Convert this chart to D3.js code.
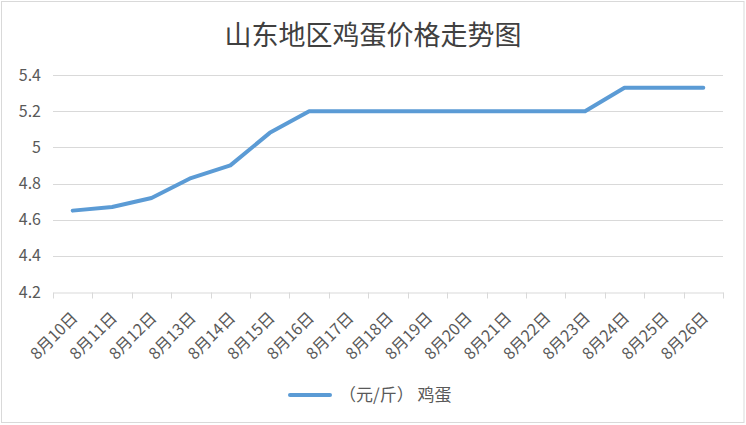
<!DOCTYPE html>
<html><head><meta charset="utf-8">
<script src="https://cdn.jsdelivr.net/npm/d3@7"></script>
<style>body{margin:0;background:#fff}svg{display:block}text{font-family:"Noto Sans CJK SC","Open Sans",sans-serif}</style>
</head><body>
<svg id="c" width="746" height="425"></svg>
<script>
const title = "山东地区鸡蛋价格走势图";
const categories = ["8月10日","8月11日","8月12日","8月13日","8月14日","8月15日","8月16日","8月17日","8月18日","8月19日","8月20日","8月21日","8月22日","8月23日","8月24日","8月25日","8月26日"];
const values = [4.65,4.67,4.72,4.83,4.90,5.08,5.20,5.20,5.20,5.20,5.20,5.20,5.20,5.20,5.33,5.33,5.33];
const yTicks = [4.2,4.4,4.6,4.8,5,5.2,5.4];
const seriesName = "（元/斤） 鸡蛋";

const svg = d3.select("#c");
svg.append("rect").attr("x",1.5).attr("y",1.5).attr("width",742.5).attr("height",421).attr("fill","#fff").attr("stroke","#d9d9d9").attr("stroke-width",1);

const L=53, R=723, T=75, B=292;
const x = d3.scaleBand().domain(categories).range([L,R]);
const y = d3.scaleLinear().domain([4.2,5.4]).range([B,T]);

svg.append("text").attr("x",373).attr("y",45).attr("text-anchor","middle").attr("font-size",27).attr("fill","#404040").text(title);

// gridlines
svg.append("g").selectAll("line").data(yTicks.filter(d=>d>4.2)).join("line")
  .attr("x1",L).attr("x2",R).attr("y1",d=>Math.round(y(d))+0.5).attr("y2",d=>Math.round(y(d))+0.5)
  .attr("stroke","#d9d9d9").attr("stroke-width",1);

// y labels
svg.append("g").selectAll("text").data(yTicks).join("text")
  .attr("x",41).attr("y",d=>y(d)+5.5).attr("text-anchor","end").attr("font-size",16).attr("fill","#595959")
  .text(d=>d3.format("~g")(d));

// x axis
const xAxis = d3.axisBottom(x).tickSize(6).tickSizeOuter(0).tickFormat("");
const gx = svg.append("g").attr("transform",`translate(0,${Math.round(B)+0.5})`).call(xAxis);
gx.select(".domain").attr("stroke","#d9d9d9");
gx.selectAll(".tick").remove();
const edges = categories.map(c=>x(c)).concat([R]);
gx.selectAll("line.t").data(edges).join("line").attr("class","t")
  .attr("x1",d=>Math.round(d)+0.5).attr("x2",d=>Math.round(d)+0.5).attr("y1",0).attr("y2",6).attr("stroke","#d9d9d9");

svg.append("g").selectAll("text").data(categories).join("text")
  .attr("transform",d=>`translate(${x(d)+x.bandwidth()/2+2},${B+23}) rotate(-45)`)
  .attr("text-anchor","end").attr("font-size",16).attr("fill","#595959").attr("dy","0.35em")
  .text(d=>d);

// line
const line = d3.line().x((d,i)=>x(categories[i])+x.bandwidth()/2).y(d=>y(d));
svg.append("path").datum(values).attr("d",line).attr("fill","none")
  .attr("stroke","#5b9bd5").attr("stroke-width",4).attr("stroke-linecap","round").attr("stroke-linejoin","round");

// legend
svg.append("line").attr("x1",290).attr("x2",330).attr("y1",395).attr("y2",395)
  .attr("stroke","#5b9bd5").attr("stroke-width",4).attr("stroke-linecap","round");
svg.append("text").attr("x",339).attr("y",401).attr("font-size",17).attr("fill","#595959").text(seriesName);
</script>
</body></html>
